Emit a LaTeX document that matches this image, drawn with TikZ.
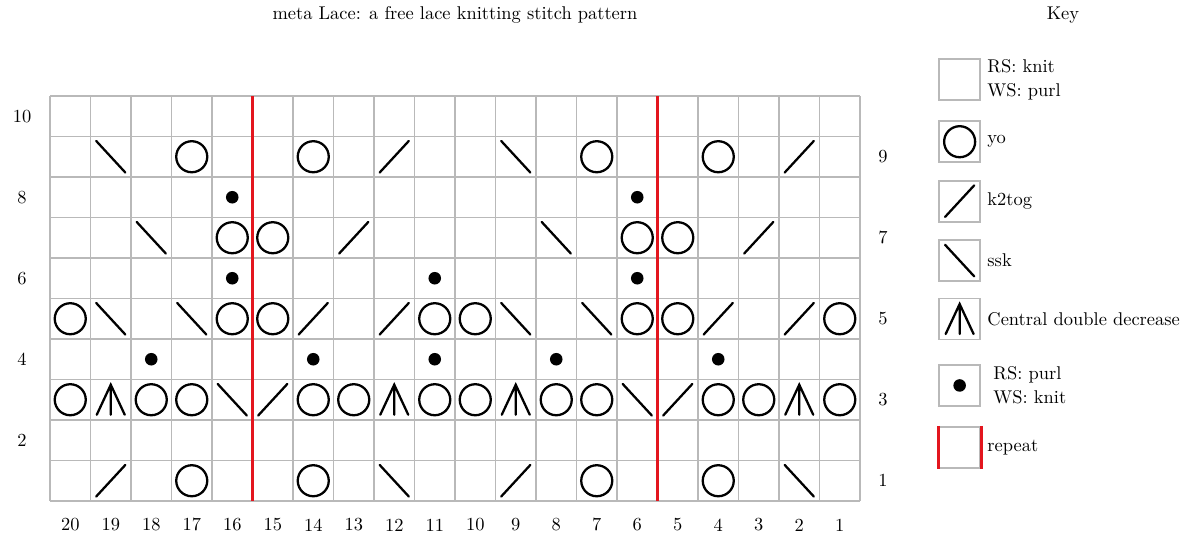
\documentclass[tikz,border=0pt]{standalone}
\usepackage{tikz}
\usetikzlibrary{positioning}
\definecolor{lcGrid}{HTML}{B9B9B9}
\definecolor{lcRepeat}{HTML}{E3161E}
\definecolor{lcInk}{HTML}{000000}
\tikzset{
  gridline/.style={draw=lcGrid, line width=1.1pt},
  repeatline/.style={draw=lcRepeat, line width=1.7pt},
  stitch/.style={draw=lcInk, line width=1.3pt, line cap=round},
  chartfont/.style={font=\fontsize{10.5}{13.5}\selectfont},
  rowno/.style={chartfont, inner sep=0pt},
  keybox/.style={draw=lcGrid, line width=1.1pt, minimum size=8.2mm, inner sep=0pt},
  keytext/.style={chartfont, align=left, anchor=west, inner sep=0pt},
  yo/.pic={\draw[stitch] (0,0) circle (0.383);},
  k2tog/.pic={\draw[stitch] (-0.36,-0.39) -- (0.36,0.39);},
  ssk/.pic={\draw[stitch] (-0.36,0.39) -- (0.36,-0.39);},
  cdd/.pic={\draw[stitch] (-0.345,-0.37) -- (0,0.37) -- (0.345,-0.37) (0,0.37) -- (0,-0.37);},
  purl/.pic={\fill[lcInk] (0,0) circle (0.155);}
}

\begin{document}
\begin{tikzpicture}[x=0.81cm, y=0.81cm]
  \useasboundingbox (-1.2346,-1.2346) rectangle (28.395,12.370);
  \node[chartfont, anchor=base] (title) at (10,11.88) {meta Lace: a free lace knitting stitch pattern};
  \node[chartfont, anchor=base] (keyhead) at (25.01,11.88) {Key};
  \draw[gridline, step=1] (0,0) grid (20,10);
  \foreach \x in {5,15}{\draw[repeatline] (\x,0) -- (\x,10);}
  \foreach \n in {2,4,...,10}{\node[rowno] (left-\n) at (-0.69,\n-0.5) {\n};}
  \foreach \n in {1,3,...,9}{\node[rowno] (right-\n) at (20.57,\n-0.5) {\n};}
  \foreach \n in {1,...,20}{\node[rowno] (col-\n) at (20.5-\n,-0.59) {\n};}
  \foreach \col/\row in {17/9,14/9,7/9,4/9,16/7,15/7,6/7,5/7,20/5,16/5,15/5,11/5,10/5,6/5,5/5,1/5,
    20/3,18/3,17/3,14/3,13/3,11/3,10/3,8/3,7/3,4/3,3/3,1/3,17/1,14/1,7/1,4/1}{\pic at (20.5-\col,\row-0.5) {yo};}
  \foreach \col/\row in {12/9,2/9,13/7,3/7,14/5,12/5,4/5,2/5,15/3,5/3,19/1,9/1}{\pic at (20.5-\col,\row-0.5) {k2tog};}
  \foreach \col/\row in {19/9,9/9,18/7,8/7,19/5,17/5,9/5,7/5,16/3,6/3,12/1,2/1}{\pic at (20.5-\col,\row-0.5) {ssk};}
  \foreach \col in {19,12,9,2}{\pic at (20.5-\col,2.5) {cdd};}
  \foreach \col/\row in {16/8,6/8,16/6,11/6,6/6,18/4,14/4,11/4,8/4,4/4}{\pic at (20.5-\col,\row-0.5) {purl};}
  \node[keybox] (k-knit) at (22.46,10.40) {};
  \node[keybox, below=3.8mm of k-knit] (k-yo) {};
  \node[keybox, below=3.3mm of k-yo] (k-k2tog) {};
  \node[keybox, below=3.3mm of k-k2tog] (k-ssk) {};
  \node[keybox, below=3.1mm of k-ssk] (k-cdd) {};
  \node[keybox, below=4.7mm of k-cdd] (k-purl) {};
  \node[keybox, below=3.8mm of k-purl] (k-repeat) {};
  \pic at (k-yo.center) {yo};
  \pic at (k-k2tog.center) {k2tog};
  \pic at (k-ssk.center) {ssk};
  \pic at (k-cdd.center) {cdd};
  \pic at (k-purl.center) {purl};
  \draw[repeatline] (k-repeat.north west) -- (k-repeat.south west) (k-repeat.north east) -- (k-repeat.south east);
  \node[keytext, right=1.2mm of k-knit] (t-knit) {RS: knit\\WS: purl};
  \node[keytext, right=1.2mm of k-yo] (t-yo) {yo};
  \node[keytext, right=1.2mm of k-k2tog] (t-k2tog) {k2tog};
  \node[keytext, right=1.2mm of k-ssk] (t-ssk) {ssk};
  \node[keytext, right=1.2mm of k-cdd] (t-cdd) {Central double decrease};
  \node[keytext, right=2.4mm of k-purl] (t-purl) {RS: purl\\WS: knit};
  \node[keytext, right=1.2mm of k-repeat] (t-repeat) {repeat};
\end{tikzpicture}
\end{document}
